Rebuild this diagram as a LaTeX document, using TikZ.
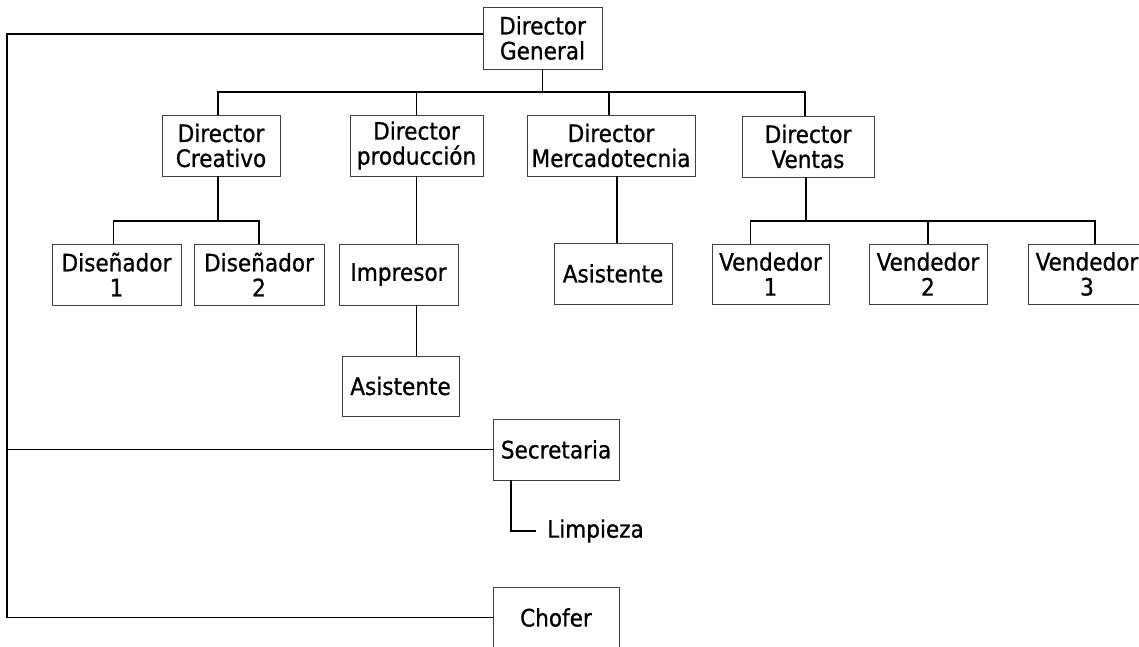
\documentclass[tikz,border=0pt]{standalone}
\usepackage{fontspec}
\setmainfont{DejaVu Sans Condensed}[FakeBold=0.8]
\tikzset{
  caja/.style={draw=black!75,line width=0.7pt,inner sep=0pt,minimum height=61pt,
    align=center,font=\fontsize{24}{25}\selectfont},
  texto/.style={inner sep=0pt,font=\fontsize{24}{25}\selectfont},
  linea/.style={line width=1.2pt}
}
\begin{document}
\begin{tikzpicture}[x=1pt,y=-1pt]
\useasboundingbox (0,0) rectangle (1139,646);
% direccion
\node[caja,minimum width=119pt,minimum height=62pt] (dg) at (542.5,38) {Director\\General};
\node[caja,minimum width=118pt] (dc) at (221,145.5) {Director\\Creativo};
\node[caja,minimum width=133pt] (dp) at (416.5,145.5) {Director\\producción};
\node[caja,minimum width=168pt] (dm) at (611,145.5) {Director\\Mercadotecnia};
\node[caja,minimum width=132pt] (dv) at (808,146.5) {Director\\Ventas};
% tercer nivel
\node[caja,minimum width=129pt] (dis1) at (116.5,274.5) {Diseñador\\1};
\node[caja,minimum width=130pt] (dis2) at (259,274.5) {Diseñador\\2};
\node[caja,minimum width=119pt] (imp) at (398.5,274.5) {Impresor};
\node[caja,minimum width=117pt,minimum height=60pt] (asi1) at (400.5,386) {Asistente};
\node[caja,minimum width=118pt] (asi2) at (613,273.5) {Asistente};
\node[caja,minimum width=117pt,minimum height=60pt] (ven1) at (770.5,274) {Vendedor\\1};
\node[caja,minimum width=118pt,minimum height=60pt] (ven2) at (928,274) {Vendedor\\2};
\node[caja,minimum width=118pt,minimum height=60pt] (ven3) at (1087,274) {Vendedor\\3};
% staff
\node[caja,minimum width=126pt] (sec) at (556,449.5) {Secretaria};
\node[caja,minimum width=126pt] (cho) at (556,617.5) {Chofer};
\node[texto,anchor=west,inner xsep=11pt] (limp) at (536,531) {Limpieza};
\coordinate (tronco) at (7,34);
\coordinate (bus) at (542.5,92);
\coordinate (busd) at (218,221);
\coordinate (busv) at (806,221);
% conectores
\draw[linea] ([yshift=4pt]dg.west) -- (tronco) |- (cho.west);
\draw[linea] (sec.west) -- (sec.west -| tronco);
\draw[linea] (dg.south) -- (bus);
\draw[linea] ([xshift=-3pt]dc.north) |- (bus) -| ([xshift=-3pt]dv.north);
\draw[linea] (dp.north) -- (dp.north |- bus);
\draw[linea] ([xshift=-2pt]dm.north) -- ([xshift=-2pt]dm.north |- bus);
\draw[linea] (busd) -- (busd |- dc.south);
\draw[linea] ([xshift=-3pt]dis1.north) |- (busd) -| (dis2.north);
\draw[linea] (dp.south) -- (dp.south |- imp.north);
\draw[linea] (dp.south |- imp.south) -- (dp.south |- asi1.north);
\draw[linea] ([xshift=6pt]dm.south) -- ([xshift=6pt]dm.south |- asi2.north);
\draw[linea] (busv) -- (busv |- dv.south);
\draw[linea] ([xshift=-20pt]ven1.north) |- (busv) -| ([xshift=8pt]ven3.north);
\draw[linea] (ven2.north) -- (ven2.north |- busv);
\draw[linea] ([xshift=-45pt]sec.south) |- (limp.west);
\end{tikzpicture}
\end{document}
